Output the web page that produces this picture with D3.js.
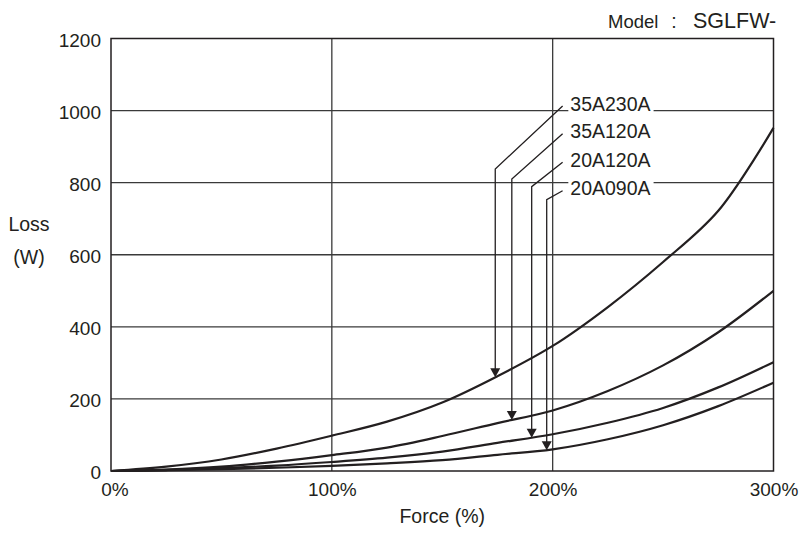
<!DOCTYPE html>
<html>
<head>
<meta charset="utf-8">
<script src="https://cdn.jsdelivr.net/npm/d3@7"></script>
<style>
  html, body { margin: 0; padding: 0; background: #fff; }
  text { font-family: "Liberation Sans", Arial, Helvetica, sans-serif; fill: #231f20; }
</style>
</head>
<body>
<svg id="chart" width="800" height="533"></svg>
<script>
// ---- data ----
const force = [0, 25, 50, 75, 100, 125, 150, 175, 200, 225, 250, 275, 300];
const loss35A230A = [0, 12, 32, 62, 98, 137, 190, 263, 347, 455, 580, 722, 952];
const loss35A120A = [0, 4, 12, 26, 44, 65, 97, 133, 168, 222, 293, 385, 500];
const loss20A120A = [0, 3, 8, 15, 25, 37, 54, 78, 102, 134, 175, 232, 302];
const loss20A090A = [0, 2, 5, 9, 14, 21, 30, 45, 60, 88, 127, 180, 245];
const seriesNames = ["35A230A", "35A120A", "20A120A", "20A090A"];
const xTicks = [0, 100, 200, 300];
const xTickLabels = ["0%", "100%", "200%", "300%"];
const yTicks = [0, 200, 400, 600, 800, 1000, 1200];
// annotation anchors (data units)
const arrowForce = [174, 181.5, 190.5, 197.3];
const elbowLoss = [838, 810, 789, 753];
const labelLoss = [1018, 941, 862, 783];
const leaderStartForce = 204.5;
const labelForce = 208;

// ---- layout ----
const svg = d3.select("#chart");
const x = d3.scaleLinear().domain([0, 300]).range([111, 773.5]);
const y = d3.scaleLinear().domain([0, 1200]).range([471, 38.5]);
const ink = "#231f20";

// gridlines
const g = svg.append("g");
g.selectAll("line.h").data(yTicks.slice(1, -1)).join("line")
  .attr("x1", x(0)).attr("x2", x(300))
  .attr("y1", d => y(d)).attr("y2", d => y(d))
  .attr("stroke", "#3a3a3a").attr("stroke-width", 1.3);
g.selectAll("line.v").data(xTicks.slice(1, -1)).join("line")
  .attr("y1", y(0)).attr("y2", y(1200))
  .attr("x1", d => x(d)).attr("x2", d => x(d))
  .attr("stroke", "#3a3a3a").attr("stroke-width", 1.3);

// axes via d3 axis (labels only)
const yAxis = d3.axisLeft(y).tickValues(yTicks).tickFormat(d3.format("d")).tickSize(0).tickPadding(10);
const yg = svg.append("g").attr("transform", `translate(${x(0)},0)`).call(yAxis);
yg.select(".domain").remove();
yg.selectAll("text").attr("font-size", 19).attr("dy", "0.4em")
  .style("font-family", '"Liberation Sans", Arial, sans-serif').attr("fill", ink);

const xAxis = d3.axisBottom(x).tickValues(xTicks).tickFormat((d, i) => xTickLabels[i]).tickSize(0).tickPadding(12);
const xg = svg.append("g").attr("transform", `translate(0,${y(0)})`).call(xAxis);
xg.select(".domain").remove();
xg.selectAll("text").attr("font-size", 19).attr("dy", "0.71em")
  .style("font-family", '"Liberation Sans", Arial, sans-serif').attr("fill", ink)
  .attr("dx", (d, i) => i === 0 ? 3.5 : 0);

// frame
svg.append("rect").attr("x", x(0)).attr("y", y(1200))
  .attr("width", x(300) - x(0)).attr("height", y(0) - y(1200))
  .attr("fill", "none").attr("stroke", ink).attr("stroke-width", 1.5);

// curves
const allSeries = [loss35A230A, loss35A120A, loss20A120A, loss20A090A];
const line = d3.line().x(d => x(d[0])).y(d => y(d[1])).curve(d3.curveCatmullRom.alpha(0.5));
const paths = allSeries.map(vals => svg.append("path")
  .datum(force.map((f, i) => [f, vals[i]]))
  .attr("d", line).attr("fill", "none").attr("stroke", ink).attr("stroke-width", 2.2)
  .node());

// find y on path at given x
function yAtX(path, px) {
  const L = path.getTotalLength();
  let lo = 0, hi = L;
  for (let k = 0; k < 40; k++) {
    const mid = (lo + hi) / 2;
    if (path.getPointAtLength(mid).x < px) lo = mid; else hi = mid;
  }
  return path.getPointAtLength((lo + hi) / 2).y;
}

// annotations
const ann = svg.append("g");
seriesNames.forEach((name, i) => {
  const ax = x(arrowForce[i]);
  const tipY = yAtX(paths[i], ax);
  const ey = y(elbowLoss[i]);
  const ly = y(labelLoss[i]);
  const t = ann.append("text").attr("x", x(labelForce)).attr("y", ly).attr("dy", "0.33em")
    .attr("font-size", 19.5).text(name);
  const bb = t.node().getBBox();
  ann.insert("rect", "text").attr("x", bb.x - 2).attr("y", bb.y + 2)
    .attr("width", bb.width + 5).attr("height", bb.height - 4).attr("fill", "#fff");
  ann.append("polyline")
    .attr("points", `${x(leaderStartForce)},${ly + 2} ${ax},${ey} ${ax},${tipY - 8}`)
    .attr("fill", "none").attr("stroke", ink).attr("stroke-width", 1.3);
  ann.append("path")
    .attr("d", `M${ax - 5},${tipY - 9} L${ax + 5},${tipY - 9} L${ax},${tipY} Z`)
    .attr("fill", ink);
});

// titles
svg.append("text").attr("x", 29).attr("y", 231).attr("text-anchor", "middle").attr("font-size", 19.5).text("Loss");
svg.append("text").attr("x", 29).attr("y", 264).attr("text-anchor", "middle").attr("font-size", 19.5).text("(W)");
svg.append("text").attr("x", (x(0) + x(300)) / 2).attr("y", 523).attr("text-anchor", "middle").attr("font-size", 19.5).text("Force (%)");
svg.append("text").attr("x", 608).attr("y", 28).attr("font-size", 18.5).text("Model");
svg.append("text").attr("x", 674).attr("y", 28).attr("text-anchor", "middle").attr("font-size", 19.5).text(":");
svg.append("text").attr("x", 693).attr("y", 28).attr("font-size", 21.5).text("SGLFW-");
</script>
</body>
</html>
